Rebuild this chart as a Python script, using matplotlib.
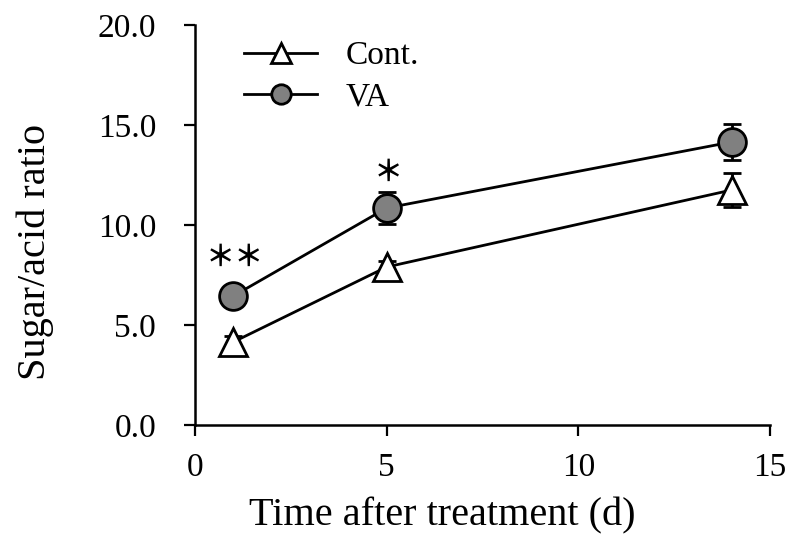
import matplotlib
matplotlib.use("Agg")
import matplotlib.pyplot as plt
from matplotlib.lines import Line2D

days = [1, 5, 14]
cont = [4.15, 7.9, 11.75]
cont_err = [0.3, 0.3, 0.85]
va = [6.45, 10.85, 14.15]
va_err = [0.3, 0.8, 0.9]
xticks = [0, 5, 10, 15]
yticks = [0.0, 5.0, 10.0, 15.0, 20.0]
sig_labels = [("＊＊", 1.04, 8.4), ("＊", 5.05, 12.65)]

plt.rcParams['font.family'] = ['Liberation Serif', 'DejaVu Serif']

fig = plt.figure(figsize=(7.94, 5.41), dpi=100)
ax = fig.add_axes([195/794, 1-425/541, 575/794, 400/541])

ax.errorbar(days, va, yerr=va_err, color='black', lw=2, marker='o', ms=20,
            mfc='#808080', mec='black', mew=2, capsize=6.5, capthick=2.5,
            elinewidth=2, zorder=3)
ax.errorbar(days, cont, yerr=cont_err, color='black', lw=2, marker='^', ms=20,
            mfc='white', mec='black', mew=2, capsize=6.5, capthick=2.5,
            elinewidth=2, zorder=3)

for txt, x, y in sig_labels:
    ax.text(x, y, txt, ha='center', va='center', fontsize=21, fontweight='bold',
            family=['Noto Sans CJK JP', 'DejaVu Sans'])

ax.set_xlim(0, 15)
ax.set_ylim(0, 20)
ax.set_xticks(xticks)
ax.set_yticks(yticks)
ax.set_yticklabels([f"{v:.1f}" for v in yticks])
ax.tick_params(direction='out', length=8, width=1.6, labelsize=24)
ax.tick_params(axis='y', pad=20)
ax.tick_params(axis='x', pad=12)
for s in ['top', 'right']:
    ax.spines[s].set_visible(False)
for s in ['left', 'bottom']:
    ax.spines[s].set_linewidth(1.8)
ax.set_xlabel('Time after treatment (d)', fontsize=29)
ax.set_ylabel('Sugar/acid ratio', fontsize=29)
ax.xaxis.set_label_coords(0.430, -0.18)
ax.yaxis.set_label_coords(-0.245, 0.4325)

handles = [
    Line2D([], [], color='black', lw=2, marker='^', ms=14, mfc='white', mec='black', mew=2),
    Line2D([], [], color='black', lw=2, marker='o', ms=14, mfc='#808080', mec='black', mew=2),
]
ax.legend(handles, ['Cont.', 'VA'], loc='upper left', bbox_to_anchor=(0.085, 0.96),
          frameon=False, fontsize=24, handlelength=2.2, labelspacing=0.33,
          handletextpad=0.85, borderpad=0, borderaxespad=0)

fig.savefig('out.png', dpi=100)
